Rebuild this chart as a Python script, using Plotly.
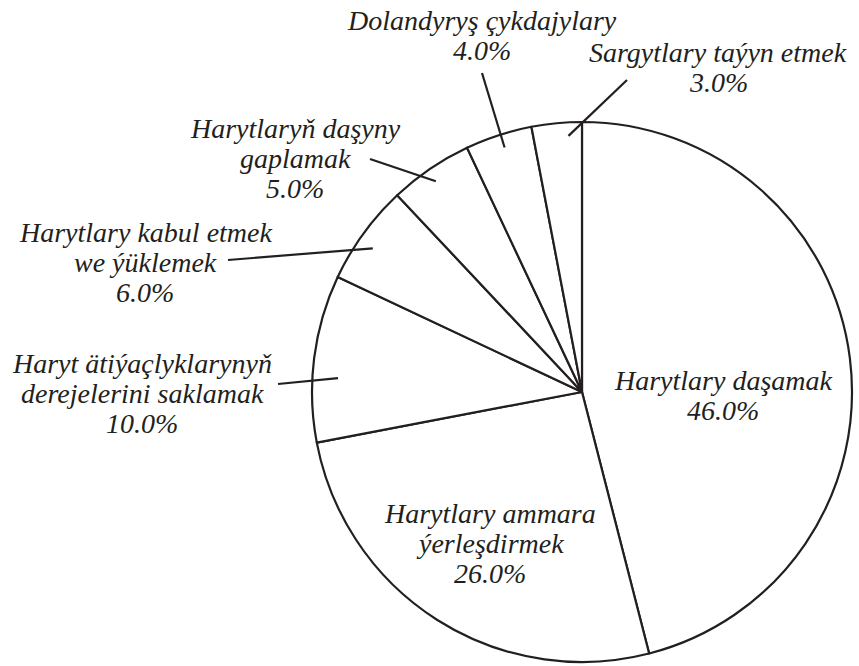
import math
import plotly.graph_objects as go

# Cost structure of commodity logistics, per cent
categories = [
    "Harytlary daşamak",
    "Harytlary ammara ýerleşdirmek",
    "Haryt ätiýaçlyklarynyň derejelerini saklamak",
    "Harytlary kabul etmek we ýüklemek",
    "Harytlaryň daşyny gaplamak",
    "Dolandyryş çykdajylary",
    "Sargytlary taýyn etmek",
]
shares = [46.0, 26.0, 10.0, 6.0, 5.0, 4.0, 3.0]

# How each category name is broken into lines on the chart
label_lines = [
    ["Harytlary daşamak"],
    ["Harytlary ammara", "ýerleşdirmek"],
    ["Haryt ätiýaçlyklarynyň", "derejelerini saklamak"],
    ["Harytlary kabul etmek", "we ýüklemek"],
    ["Harytlaryň daşyny", "gaplamak"],
    ["Dolandyryş çykdajylary"],
    ["Sargytlary taýyn etmek"],
]

# ---- layout (pixels) ----
W, H = 859, 666
CX, CY, R = 582, 392, 270
FS = 28
LINE_H = 30
INK = "#231f20"
FONT = dict(family="Liberation Serif", size=FS, color=INK, style="italic")

# text block placement: centre x, first baseline y
label_pos = [
    (723, 390),
    (490, 523),
    (142, 373),
    (145, 242),
    (295, 138),
    (482, 30),
    (718, 62),
]
# leader lines: outer end (px), position inside slice (0..1), radius fraction
leaders = [
    None,
    None,
    ((278, 384), 0.39, 0.905),
    ((228, 260), 0.43, 0.94),
    ((370, 159), 0.47, 0.95),
    ((482, 73), 0.53, 0.95),
    ((627, 80), 0.72, 0.95),
]


def px_to_paper(x, y):
    return x / W, 1 - y / H


fig = go.Figure(
    go.Pie(
        labels=categories,
        values=shares,
        sort=False,
        direction="clockwise",
        rotation=0,
        textinfo="none",
        hoverinfo="label+percent",
        marker=dict(colors=["white"] * len(shares), line=dict(color=INK, width=2.2)),
        domain=dict(
            x=[(CX - R) / W, (CX + R) / W],
            y=[1 - (CY + R) / H, 1 - (CY - R) / H],
        ),
        showlegend=False,
    )
)

total = sum(shares)
start = 0.0
annotations = []
shapes = []
for i, v in enumerate(shares):
    span = 360.0 * v / total
    lines = label_lines[i] + [f"{v / total * 100:.1f}%"]
    lx, ly = label_pos[i]
    for k, txt in enumerate(lines):
        base = ly + k * LINE_H
        bx, by = px_to_paper(lx, base + 0.216 * FS + 2)
        annotations.append(dict(
            x=bx, y=by, xref="paper", yref="paper",
            xanchor="center", yanchor="bottom",
            text=txt, showarrow=False, font=FONT,
        ))
    if leaders[i] is not None:
        (ox, oy), frac, rf = leaders[i]
        ang = math.radians(start + frac * span)
        ix = CX + rf * R * math.sin(ang)
        iy = CY - rf * R * math.cos(ang)
        x0, y0 = px_to_paper(ox, oy)
        x1, y1 = px_to_paper(ix, iy)
        shapes.append(dict(
            type="line", xref="paper", yref="paper",
            x0=x0, y0=y0, x1=x1, y1=y1,
            line=dict(color=INK, width=2.2),
        ))
    start += span

fig.update_layout(
    width=W, height=H,
    margin=dict(l=0, r=0, t=0, b=0),
    paper_bgcolor="white",
    plot_bgcolor="white",
    annotations=annotations,
    shapes=shapes,
)

fig.write_html("out.html")
